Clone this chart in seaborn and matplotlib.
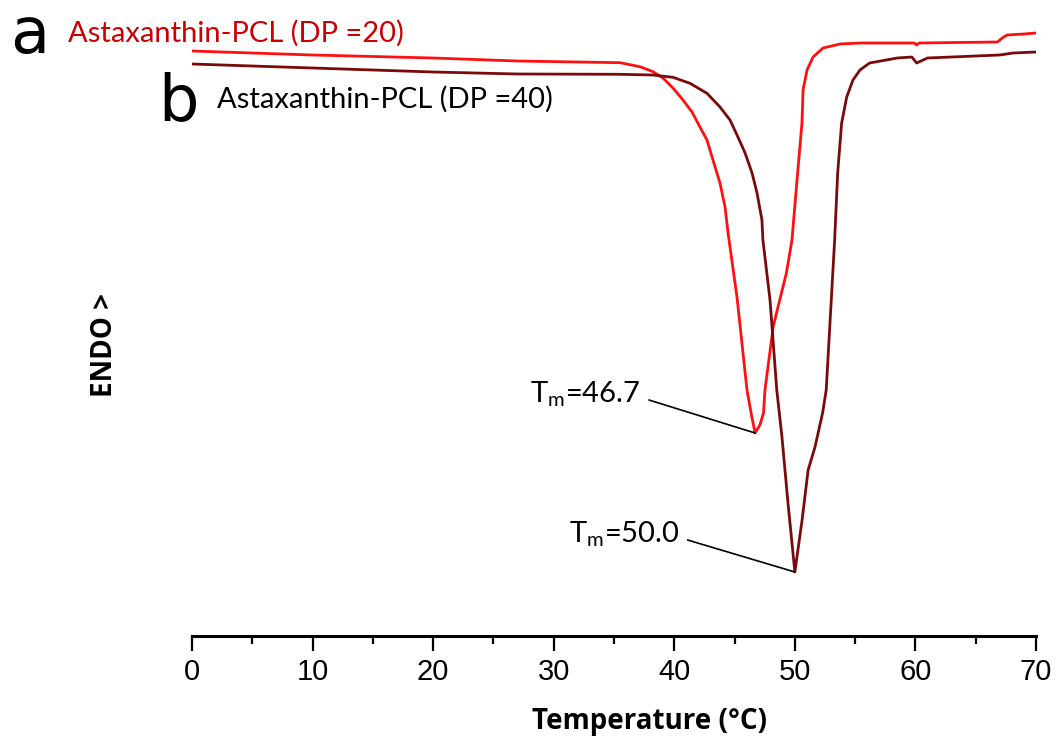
import matplotlib
matplotlib.use("Agg")
import matplotlib.pyplot as plt
import seaborn as sns
import pandas as pd

# ---- data ----
temp_dp20 = [0, 10, 20, 27, 32, 35.5, 37.16, 38.23, 39.06, 39.89, 40.72, 41.47, 42.13,
             42.71, 43.21, 43.79, 44.21, 44.46, 45.2, 46.03, 46.4, 46.7, 47.1, 47.4,
             47.52, 48.2, 48.6, 49.3, 49.76, 50.18, 50.59, 50.68, 51.01, 51.51, 52.34,
             53.75, 55.4, 59.9, 60.1, 60.3, 66.8, 67.2, 67.6, 69, 70]
flow_dp20 = [58.5, 58.1, 57.8, 57.5, 57.4, 57.33, 56.93, 56.43, 55.8, 54.8, 53.6, 52.4,
             50.9, 49.6, 47.6, 45.3, 42.9, 40.3, 33.9, 24.6, 22.1, 20.3, 21.1, 22.3,
             24.6, 30.9, 32.9, 36.3, 39.6, 45.6, 51.3, 54.6, 56.6, 57.9, 58.8, 59.2,
             59.3, 59.3, 59.1, 59.3, 59.4, 59.8, 60.1, 60.2, 60.3]

temp_dp40 = [0, 10, 20, 27, 35.5, 38.23, 39.89, 41.3, 42.71, 43.79, 44.62, 45.28, 45.87,
             46.45, 46.86, 47.27, 47.35, 47.94, 48.5, 48.93, 49.43, 50.0, 50.6, 51.1,
             51.67, 52.3, 52.6, 53.3, 53.55, 53.88, 54.3, 54.82, 55.4, 56.2, 58.5,
             59.7, 60.1, 61, 67, 68.1, 70]
flow_dp40 = [57.2, 56.8, 56.4, 56.2, 56.17, 56.1, 55.87, 55.27, 54.27, 52.9, 51.6, 49.9,
             48.3, 46.3, 44.3, 41.6, 39.6, 33.6, 24.6, 19.9, 13.3, 6.4, 11.6, 16.6,
             18.9, 22.3, 24.6, 39.6, 46.3, 51.3, 53.9, 55.6, 56.6, 57.3, 57.8, 57.9,
             57.3, 57.8, 58.1, 58.3, 58.4]

series_names = ["Astaxanthin-PCL (DP =20)", "Astaxanthin-PCL (DP =40)"]
tm_values = [46.7, 50.0]
x_ticks = [0, 10, 20, 30, 40, 50, 60, 70]
x_minor_ticks = [5, 15, 25, 35, 45, 55, 65]

df = pd.concat([
    pd.DataFrame({"Temperature": temp_dp20, "Flow": flow_dp20, "Sample": series_names[0]}),
    pd.DataFrame({"Temperature": temp_dp40, "Flow": flow_dp40, "Sample": series_names[1]}),
])

sns.set_style("white")
plt.rcParams["font.family"] = ["Lato", "DejaVu Sans"]
plt.rcParams["text.color"] = "black"
plt.rcParams["xtick.color"] = "black"

fig = plt.figure(figsize=(10.59, 7.36), dpi=100)
ax = fig.add_axes([192 / 1059, 100 / 736, (1036 - 192) / 1059, (636 - 20) / 736])

sns.lineplot(data=df, x="Temperature", y="Flow", hue="Sample", sort=False,
             palette={series_names[0]: "#ff1010", series_names[1]: "#7a0a0a"},
             linewidth=2.0, legend=False, ax=ax, estimator=None)

ax.set_xlim(0, 70)
ax.set_ylim(0, 61.6)
for s in ["top", "right", "left"]:
    ax.spines[s].set_visible(False)
ax.spines["bottom"].set_linewidth(2.2)
ax.spines["bottom"].set_color("black")
ax.set_yticks([])
ax.set_xticks(x_ticks)
ax.set_xticks(x_minor_ticks, minor=True)
ax.tick_params(axis="x", which="major", direction="out", length=11, width=1.6,
               color="black", labelcolor="black", pad=5, bottom=True)
ax.tick_params(axis="x", which="minor", direction="out", length=6, width=1.6,
               color="black", bottom=True)
for lbl in ax.get_xticklabels():
    lbl.set_family(["Liberation Sans Narrow", "Liberation Sans", "DejaVu Sans"])
    lbl.set_fontsize(21)
ax.set_xlabel("Temperature (°C)", fontsize=20, fontweight="bold",
              family=["Open Sans", "DejaVu Sans"], color="black")
ax.xaxis.set_label_coords((649 - 192) / 844, -0.116)
ax.set_ylabel("")
fig.text(104 / 1059, 1 - 345 / 736, "ENDO >", rotation=90, fontsize=20,
         fontweight="bold", ha="center", va="center", color="black",
         family=["Open Sans", "DejaVu Sans"])

# Tm annotations
mins = [(tm_values[0], min(flow_dp20)), (tm_values[1], min(flow_dp40))]
text_pos = [(37.9, 23.6), (41.1, 9.6)]
for (tmx, tmy), (tx, ty), tm in zip(mins, text_pos, tm_values):
    ax.annotate("", xy=(tmx, tmy), xytext=(tx, ty),
                arrowprops=dict(arrowstyle="-", color="black", lw=1.2,
                                shrinkA=0, shrinkB=0))
    ax.text(tx - 0.7, ty + 0.6, r"T$_\mathregular{m}$=" + f"{tm:.1f}", fontsize=21,
            ha="right", va="center", color="black")

# panel letters and series labels
fig.text(10 / 1059, 1 - 53 / 736, "a", fontsize=46, ha="left", va="baseline",
         color="black", family=["DejaVu Sans"])
fig.text(158 / 1059, 1 - 120 / 736, "b", fontsize=46, ha="left", va="baseline",
         color="black", family=["DejaVu Sans"])
fig.text(68 / 1059, 1 - 42 / 736, series_names[0], fontsize=21, color="#cc0000",
         ha="left", va="baseline")
fig.text(217 / 1059, 1 - 108 / 736, series_names[1], fontsize=21, color="black",
         ha="left", va="baseline")

fig.savefig("out.png", dpi=100, facecolor="white")
